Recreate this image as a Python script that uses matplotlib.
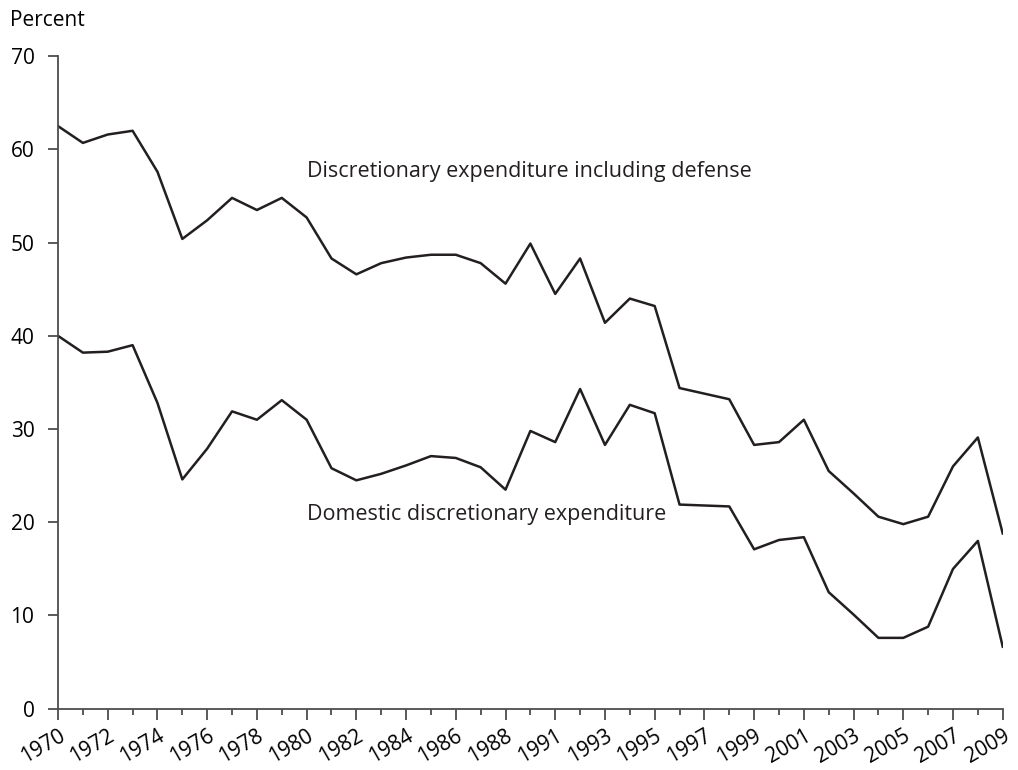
import numpy as np
import matplotlib.pyplot as plt
from matplotlib.ticker import MultipleLocator
import matplotlib.transforms as mtransforms

plt.rcParams['font.family'] = ['Open Sans', 'DejaVu Sans']

# tick labels (one slot per year in the series; 1989/1990 collapsed as in source)
year_labels = ['1970', '1972', '1974', '1976', '1978', '1980', '1982', '1984',
               '1986', '1988', '1991', '1993', '1995', '1997', '1999', '2001',
               '2003', '2005', '2007', '2009']

incl_defense = [62.5, 60.7, 61.6, 62.0, 57.6, 50.4, 52.4, 54.8, 53.5, 54.8,
                52.7, 48.3, 46.6, 47.8, 48.4, 48.7, 48.7, 47.8, 45.6, 49.9,
                44.5, 48.3, 41.4, 44.0, 43.2, 34.4, 33.8, 33.2, 28.3, 28.6,
                31.0, 25.5, 23.1, 20.6, 19.8, 20.6, 26.0, 29.1, 18.8]

domestic = [40.0, 38.2, 38.3, 39.0, 32.8, 24.6, 27.9, 31.9, 31.0, 33.1,
            31.0, 25.8, 24.5, 25.2, 26.1, 27.1, 26.9, 25.9, 23.5, 29.8,
            28.6, 34.3, 28.3, 32.6, 31.7, 21.9, 21.8, 21.7, 17.1, 18.1,
            18.4, 12.5, 10.1, 7.6, 7.6, 8.8, 15.0, 18.0, 6.65]

ink = '#231f20'
axis_grey = '#4d4d4d'
x = np.arange(len(incl_defense))

fig = plt.figure(figsize=(10.18, 7.7), dpi=100)
ax = fig.add_axes([0.057, 0.0796, 0.928, 0.8474])

ax.plot(x, incl_defense, color=ink, lw=1.8)
ax.plot(x, domestic, color=ink, lw=1.8)

ax.set_xlim(0, len(x) - 1)
ax.set_ylim(0, 70)
ax.yaxis.set_major_locator(MultipleLocator(10))
ax.set_xticks(np.arange(0, len(x), 2))
ax.set_xticks(np.arange(1, len(x), 2), minor=True)
ax.set_xticklabels(year_labels, rotation=30, ha='right', va='top',
                   rotation_mode='anchor')
offset = mtransforms.ScaledTranslation(11 / 72, 0, fig.dpi_scale_trans)
for lab in ax.get_xticklabels():
    lab.set_transform(lab.get_transform() + offset)

for s in ['top', 'right']:
    ax.spines[s].set_visible(False)
for s in ['left', 'bottom']:
    ax.spines[s].set_color(axis_grey)
    ax.spines[s].set_linewidth(1.3)

ax.tick_params(axis='y', length=7, width=1.3, color=axis_grey,
               labelsize=15, labelcolor='black', pad=10)
ax.tick_params(axis='x', which='major', length=8, width=1.3, color=axis_grey,
               labelsize=15, labelcolor='black', pad=4)
ax.tick_params(axis='x', which='minor', length=4, width=1.3, color=axis_grey)

ax.text(10.0, 57.6, 'Discretionary expenditure including defense',
        fontsize=15.5, color=ink, va='center')
ax.text(10.0, 20.8, 'Domestic discretionary expenditure',
        fontsize=15.5, color=ink, va='center')

fig.text(0.01, 0.973, 'Percent', fontsize=15, color='black', va='center')

fig.savefig('out.png', dpi=100)
